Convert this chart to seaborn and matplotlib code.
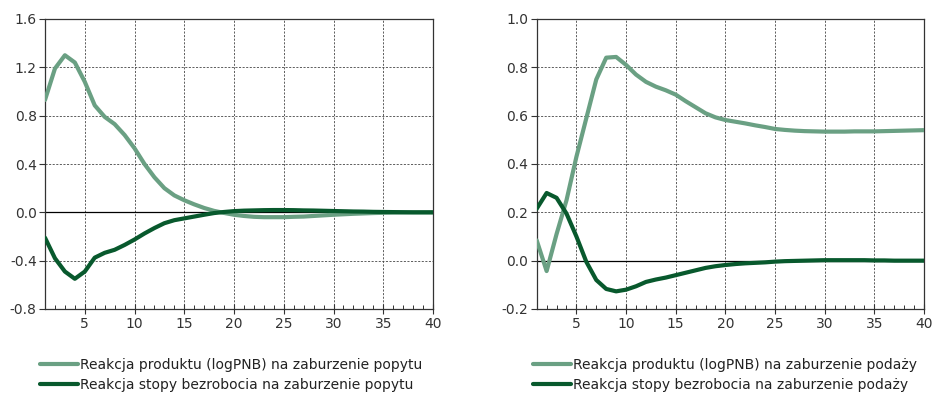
import matplotlib
matplotlib.use("Agg")
import matplotlib.pyplot as plt
from matplotlib.ticker import MultipleLocator
import seaborn as sns
import pandas as pd
import numpy as np

periods = list(range(1, 41))

demand_output = [0.93, 1.19, 1.30, 1.24, 1.08, 0.885, 0.79, 0.73, 0.64, 0.53,
                 0.40, 0.29, 0.20, 0.14, 0.10, 0.066, 0.036, 0.012, -0.005, -0.02,
                 -0.03, -0.037, -0.04, -0.04, -0.04, -0.037, -0.035, -0.03, -0.025, -0.02,
                 -0.016, -0.012, -0.009, -0.006, -0.004, -0.002, -0.001, 0.0, 0.0, 0.0]
demand_unemp = [-0.21, -0.38, -0.49, -0.55, -0.49, -0.375, -0.335, -0.31, -0.27, -0.225,
                -0.175, -0.13, -0.09, -0.065, -0.05, -0.035, -0.02, -0.006, 0.003, 0.01,
                0.014, 0.016, 0.018, 0.019, 0.019, 0.018, 0.016, 0.015, 0.013, 0.011,
                0.009, 0.007, 0.006, 0.004, 0.003, 0.002, 0.001, 0.0, 0.0, 0.0]
supply_output = [0.084, -0.043, 0.11, 0.25, 0.43, 0.59, 0.75, 0.84, 0.843, 0.81,
                 0.77, 0.74, 0.72, 0.705, 0.687, 0.66, 0.635, 0.61, 0.593, 0.582,
                 0.575, 0.568, 0.56, 0.553, 0.545, 0.541, 0.538, 0.536, 0.535, 0.534,
                 0.534, 0.534, 0.535, 0.535, 0.535, 0.536, 0.537, 0.538, 0.539, 0.54]
supply_unemp = [0.215, 0.28, 0.26, 0.195, 0.10, -0.005, -0.08, -0.117, -0.127, -0.12,
                -0.106, -0.088, -0.078, -0.07, -0.06, -0.05, -0.04, -0.03, -0.023, -0.018,
                -0.014, -0.011, -0.009, -0.007, -0.004, -0.002, -0.001, 0.0, 0.001, 0.002,
                0.002, 0.002, 0.002, 0.002, 0.001, 0.001, 0.0, 0.0, 0.0, 0.0]

labels_left = ["Reakcja produktu (logPNB) na zaburzenie popytu",
               "Reakcja stopy bezrobocia na zaburzenie popytu"]
labels_right = ["Reakcja produktu (logPNB) na zaburzenie podaży",
                "Reakcja stopy bezrobocia na zaburzenie podaży"]

light = "#6aa083"
dark = "#08592d"

sns.set_theme(style="white")
plt.rcParams['font.family'] = ['DejaVu Sans']
plt.rcParams['axes.unicode_minus'] = False

fig = plt.figure(figsize=(9.36, 3.94), dpi=100)
ax1 = fig.add_axes([45/936, 1-309/394, (433-45)/936, 290/394])
ax2 = fig.add_axes([536.7/936, 1-309/394, (924-536.7)/936, 290/394])

def draw(ax, s1, s2, labels, ylim, ymaj, legx):
    df = pd.DataFrame({
        "x": periods * 2,
        "y": s1 + s2,
        "series": [labels[0]] * len(periods) + [labels[1]] * len(periods),
    })
    ax.axhline(0, color="black", lw=0.9, zorder=1)
    sns.lineplot(data=df, x="x", y="y", hue="series", palette=[light, dark],
                 lw=3.0, ax=ax, zorder=3)
    ax.set_xlim(1, 40)
    ax.set_ylim(*ylim)
    ax.set_xticks([5, 10, 15, 20, 25, 30, 35, 40])
    ax.xaxis.set_minor_locator(MultipleLocator(1))
    ax.yaxis.set_major_locator(MultipleLocator(ymaj))
    ax.yaxis.set_major_formatter(matplotlib.ticker.FormatStrFormatter('%.1f'))
    ax.grid(True, which="major", color="#444444", ls=(0, (2.5, 1.8)), lw=0.6)
    ax.set_xlabel("")
    ax.set_ylabel("")
    for sp in ax.spines.values():
        sp.set_visible(True)
        sp.set_color("#333333")
        sp.set_linewidth(0.9)
    ax.tick_params(axis="both", which="major", direction="out", length=4,
                   width=0.8, color="#333333", labelsize=10, labelcolor="#333333", pad=2,
                   bottom=True, left=True)
    ax.tick_params(axis="x", which="minor", direction="in", length=3, width=0.7,
                   color="#333333", bottom=True)
    ax.tick_params(axis="x", which="major", direction="inout", length=7)
    ax.legend_.remove()
    handles, labs = ax.get_legend_handles_labels()
    leg = ax.legend(handles, labs, loc="upper left", bbox_to_anchor=(legx, 1-358/394),
                    bbox_transform=fig.transFigure, frameon=False, fontsize=10,
                    handlelength=2.7, handletextpad=0.15, borderpad=0, borderaxespad=0,
                    labelspacing=0.42)
    for t in leg.get_texts():
        t.set_color("#222222")

draw(ax1, demand_output, demand_unemp, labels_left, (-0.8, 1.6), 0.4, 40/936)
draw(ax2, supply_output, supply_unemp, labels_right, (-0.2, 1.0), 0.2, 533/936)

fig.savefig("out.png", dpi=100)
